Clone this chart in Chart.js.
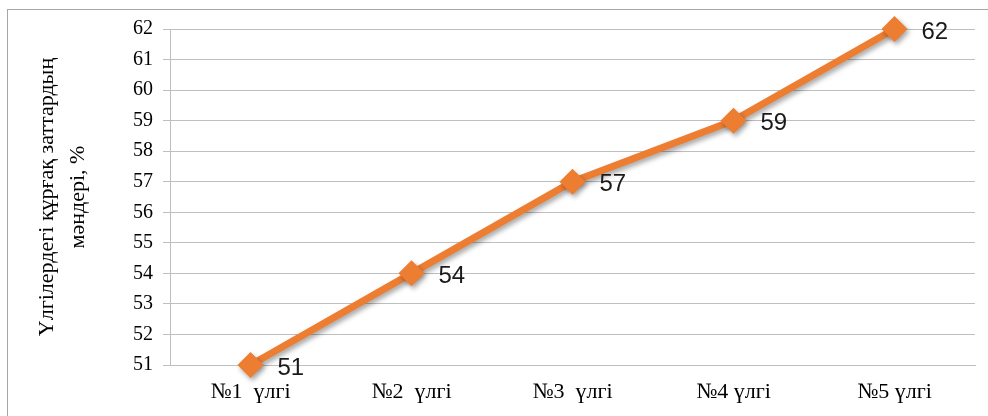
<!DOCTYPE html>
<html>
<head>
<meta charset="utf-8">
<script src="https://cdn.jsdelivr.net/npm/chart.js@4"></script>
<style>
  body { margin: 0; background: #fff; }
  .wrap { width: 988px; height: 416px; position: relative; }
</style>
</head>
<body>
<div class="wrap"><canvas id="myChart"></canvas></div>
<script>
const categories = ['№1  үлгі', '№2  үлгі', '№3  үлгі', '№4 үлгі', '№5 үлгі'];
const values = [51, 54, 57, 59, 62];
const yMin = 51;
const yMax = 62;
const yTitle = ['Үлгілердегі құрғақ заттардың', 'мәндері, %'];

Chart.defaults.font.family = 'Liberation Serif';
Chart.defaults.color = '#000';

// outer frame of the picture
const framePlugin = {
  id: 'frame',
  beforeDraw(chart) {
    const c = chart.ctx;
    c.save();
    c.strokeStyle = '#a6a6a6';
    c.lineWidth = 1;
    c.strokeRect(7.5, 9.5, 990, 420);
    c.restore();
  }
};

// soft shadow under line and markers
const shadowPlugin = {
  id: 'shadow',
  beforeDatasetDraw(chart) {
    const c = chart.ctx;
    c.save();
    c.shadowColor = 'rgba(0, 0, 0, 0.35)';
    c.shadowBlur = 5;
    c.shadowOffsetX = 2;
    c.shadowOffsetY = 3;
  },
  afterDatasetDraw(chart) {
    chart.ctx.restore();
  }
};

// value labels to the right of each point
const labelPlugin = {
  id: 'valueLabels',
  afterDatasetsDraw(chart) {
    const c = chart.ctx;
    const meta = chart.getDatasetMeta(0);
    c.save();
    c.font = '24px "Liberation Sans", Arial, sans-serif';
    c.fillStyle = '#1a1a1a';
    c.textAlign = 'left';
    c.textBaseline = 'middle';
    meta.data.forEach((pt, i) => {
      c.fillText(String(chart.data.datasets[0].data[i]), pt.x + 27, pt.y + 3);
    });
    c.restore();
  }
};

const ctx = document.getElementById('myChart');

const chart = new Chart(ctx, {
  type: 'line',
  data: {
    labels: categories,
    datasets: [{
      data: values,
      borderColor: '#ED7D31',
      backgroundColor: '#ED7D31',
      borderWidth: 7,
      pointStyle: 'rectRot',
      pointRadius: 13,
      pointHoverRadius: 13,
      pointBorderWidth: 0,
      tension: 0,
      clip: false
    }]
  },
  options: {
    responsive: true,
    maintainAspectRatio: false,
    animation: false,
    layout: {
      padding: { top: 29, right: 4, bottom: 0, left: 0 }
    },
    scales: {
      x: {
        offset: true,
        grid: { display: false, drawTicks: false },
        border: { color: '#bfbfbf' },
        ticks: {
          padding: 14,
          font: { size: 22 }
        },
        afterFit(scale) { scale.height = 51; }
      },
      y: {
        min: yMin,
        max: yMax,
        grid: { color: '#bfbfbf', tickLength: 7 },
        border: { color: '#bfbfbf' },
        ticks: {
          stepSize: 1,
          padding: 10,
          font: { size: 20 }
        },
        title: {
          display: true,
          text: yTitle,
          padding: { top: 32, bottom: 0 },
          font: { size: 22, lineHeight: 1.4 }
        },
        afterFit(scale) { scale.width = 170; }
      }
    },
    plugins: {
      legend: { display: false },
      tooltip: { enabled: false }
    }
  },
  plugins: [framePlugin, shadowPlugin, labelPlugin]
});
</script>
</body>
</html>
